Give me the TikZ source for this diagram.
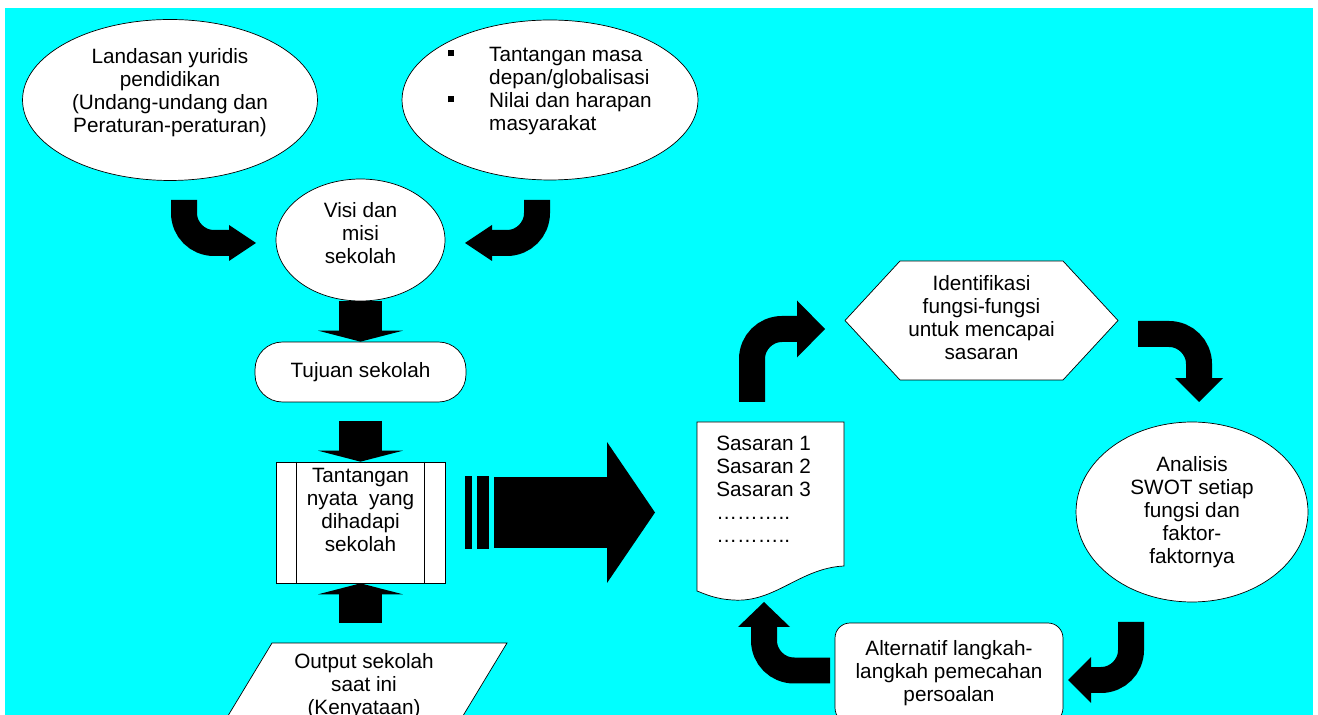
\documentclass[tikz,border=0pt]{standalone}
\usepackage{fontspec}
\setmainfont{Liberation Sans}
\usepackage{xcolor}
\usetikzlibrary{shapes.geometric,arrows.meta}

\definecolor{aqua}{RGB}{0,255,255}
\newcommand{\sqbullet}{\rule[0.1cm]{0.12cm}{0.12cm}}

\begin{document}
\begin{tikzpicture}[
      x=0.02cm, y=-0.02cm,
      every node/.style={font=\fontsize{11.8}{13.1}\selectfont, inner sep=0pt},
      oval/.style={ellipse, draw, fill=white, align=center},
      box/.style={rectangle, draw, fill=white, align=center},
      outline/.style={draw, fill=white},
      down/.style={line width=0.86cm, -{Triangle[length=0.22cm, width=1.7cm, line width=0pt]}},
      bigarrow/.style={line width=1.44cm, -{Triangle[length=0.96cm, width=2.82cm, line width=0pt]}},
      bent/.style 2 args={line width=0.52cm, rounded corners=0.6cm, -{Triangle[length=#1, width=#2, line width=0pt]}}
    ]
      \useasboundingbox (0,0) rectangle (1318,715);
      \clip (0,0) rectangle (1318,715);
      \fill[aqua] (5,8) rectangle (1313,730);

      % shapes drawn as paths
      \draw[outline] (845,320.5) -- (900,261) -- (1063,261) -- (1118,320.5) -- (1063,380) -- (900,380) -- cycle;
      \draw[outline] (697,422) -- (844,422) -- (844,566)
        .. controls (800,568) and (775,603) .. (733,600)
        .. controls (715,599) and (705,594) .. (697,591) -- cycle;
      \draw[outline] (272,643) -- (507,643) -- (455,729) -- (220,729) -- cycle;

      \node [oval, minimum width=5.9cm, minimum height=3.22cm, text depth=0.39cm] (landasan) at (170,100)
        {Landasan yuridis\\pendidikan\\(Undang-undang dan\\Peraturan-peraturan)};
      \node [oval, align=left, minimum width=5.92cm, minimum height=3.2cm, text depth=0.45cm] (harapan) at (550,100)
        {\makebox[0.82cm][l]{\sqbullet}Tantangan masa\\\hspace*{0.82cm}depan/globalisasi\\
         \makebox[0.82cm][l]{\sqbullet}Nilai dan harapan\\\hspace*{0.82cm}masyarakat};
      \node [oval, minimum width=3.38cm, minimum height=2.44cm, text depth=0.27cm] (visi) at (360.5,240)
        {Visi dan\\misi\\sekolah};
      \node [box, rounded corners=0.55cm, minimum width=4.22cm, minimum height=1.2cm] (tujuan) at (360.5,372)
        {Tujuan sekolah};
      \node [box, minimum width=3.38cm, minimum height=2.42cm, text depth=0.52cm] (tantangan) at (360.5,522.5)
        {Tantangan\\nyata\ \ yang\\dihadapi\\sekolah};
      \draw ([xshift=0.42cm]tantangan.north west) -- ([xshift=0.42cm]tantangan.south west);
      \draw ([xshift=-0.42cm]tantangan.north east) -- ([xshift=-0.42cm]tantangan.south east);
      \node [align=center] (output) at (364,686) {Output sekolah\\saat ini\\(Kenyataan)};

      \node [align=left, anchor=north west] (sasaran) at (716,436)
        {Sasaran 1\\Sasaran 2\\Sasaran 3\\………..\\………..};
      \node [align=center] (identifikasi) at (981.5,318)
        {Identifikasi\\fungsi-fungsi\\untuk mencapai\\sasaran};
      \node [oval, minimum width=4.64cm, minimum height=3.6cm] (swot) at (1192,512)
        {Analisis\\SWOT setiap\\fungsi dan\\faktor-\\faktornya};
      \node [box, rounded corners=0.3cm, minimum width=4.56cm, minimum height=2cm] (alternatif) at (949,673)
        {Alternatif langkah-\\langkah pemecahan\\persoalan};

      % arrow ends
      \coordinate (landasanout) at (184,200);
      \coordinate (visiwest) at (256,243);
      \coordinate (harapanout) at (537,200);
      \coordinate (visieast) at (465,243);
      \coordinate (tujuanout) at (360.5,421);
      \coordinate (outputout) at (360.5,623);
      \coordinate (bigstart) at (494,512.5);
      \coordinate (bigend) at (655,512.5);
      \coordinate (sasaranout) at (752,402);
      \coordinate (identin) at (825,329);
      \coordinate (identout) at (1138,334);
      \coordinate (swotin) at (1199,402);
      \coordinate (swotout) at (1131,622);
      \coordinate (alternatifin) at (1068,680);
      \coordinate (alternatifout) at (830,670.5);
      \coordinate (sasaranin) at (764,602);

      \draw [bent={0.54cm}{0.72cm}] (landasanout) |- (visiwest);
      \draw [bent={0.54cm}{0.72cm}] (harapanout) |- (visieast);
      \draw [down] (visi) -- (tujuan);
      \draw [down] (tujuanout) -- (tantangan);
      \draw [down] (outputout) -- (tantangan);
      \fill (465,476) rectangle (472,549);
      \fill (477,476) rectangle (489,549);
      \draw [bigarrow] (bigstart) -- (bigend);
      \draw [bent={0.56cm}{1.14cm}] (sasaranout) |- (identin);
      \draw [bent={0.48cm}{0.96cm}] (identout) -| (swotin);
      \draw [bent={0.46cm}{0.92cm}] (swotout) |- (alternatifin);
      \draw [bent={0.5cm}{1.04cm}] (alternatifout) -| (sasaranin);
    \end{tikzpicture}
\end{document}
